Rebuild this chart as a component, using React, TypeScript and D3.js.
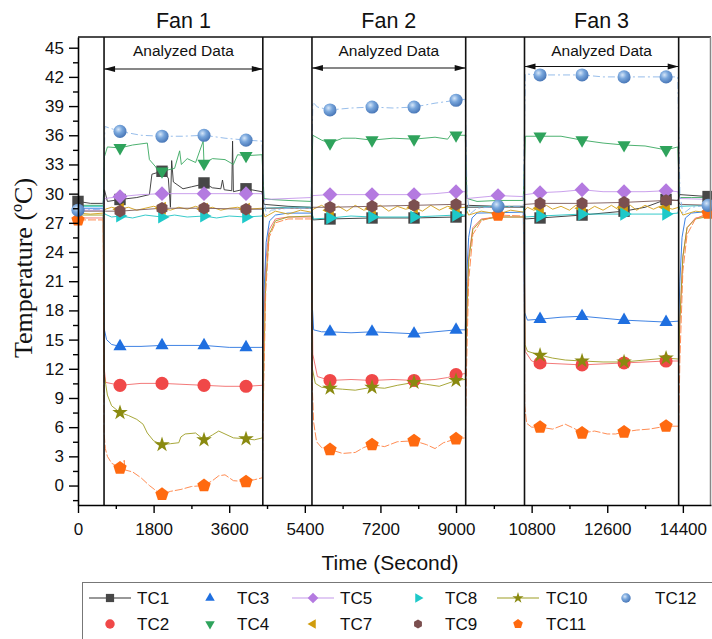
import { useEffect, useRef } from "react";
import * as d3 from "d3";

const width = 712;
const height = 639;
const plotLeft = 78;
const plotRight = 711;
const plotTop = 37;
const plotBottom = 505;

// fan on / off boundaries (seconds)
const fanNames = ["Fan 1", "Fan 2", "Fan 3"];
const fanStarts = [620, 5570, 10630];
const fanEnds = [4400, 9230, 14300];
const arrowY = [69, 68, 66.5];

const xTicks = [0, 1800, 3600, 5400, 7200, 9000, 10800, 12600, 14400];
const xMinor = [900, 2700, 4500, 6300, 8100, 9900, 11700, 13500];
const yTicks = [0, 3, 6, 9, 12, 15, 18, 21, 24, 27, 30, 33, 36, 39, 42, 45];
const yMinor = [-1.5, 1.5, 4.5, 7.5, 10.5, 13.5, 16.5, 19.5, 22.5, 25.5, 28.5, 31.5, 34.5, 37.5, 40.5, 43.5];

const markTimes = [1000, 2000, 3000, 4000, 6000, 7000, 8000, 9000, 11000, 12000, 13000, 14000];

type Pt = [number, number];

const tc1: Pt[] = [[0,29.2],[300,29.0],[600,29.0],[630,30.4],[700,29.2],[1000,29.4],[1400,29.6],[1700,29.9],[1760,32.0],[2000,32.3],[2150,31.6],[2200,28.6],[2230,33.4],[2270,31.2],[2500,30.5],[2700,30.7],[2900,30.9],[3000,31.1],[3200,30.6],[3400,30.5],[3440,31.4],[3480,30.4],[3660,30.3],[3680,35.4],[3700,30.2],[4000,30.5],[4380,30.2],[4430,28.9],[5000,28.7],[5550,28.6],[5600,27.3],[6000,27.4],[7000,27.5],[8000,27.5],[9000,27.6],[9220,27.7],[9270,28.8],[10000,28.7],[10600,28.7],[10650,27.4],[11000,27.5],[12000,27.8],[13000,28.2],[13500,28.6],[14000,29.4],[14280,29.3],[14330,29.9],[15000,29.7],[15070,29.7]];
const tc2: Pt[] = [[0,27.5],[600,27.5],[625,12.0],[660,10.6],[1000,10.3],[1500,10.5],[2000,10.5],[2500,10.4],[3000,10.3],[3500,10.2],[4000,10.2],[4390,10.3],[4420,16],[4470,23],[4550,26.3],[4700,27.4],[5000,27.6],[5560,27.6],[5590,13.5],[5700,11.2],[6000,10.8],[6500,10.9],[7000,10.8],[7500,10.9],[8000,10.8],[8500,10.9],[8800,11.1],[9000,11.4],[9220,11.5],[9250,17],[9300,23.5],[9400,26.5],[9600,27.4],[10000,27.6],[10620,27.6],[10645,13.8],[10800,12.8],[11000,12.6],[11500,12.5],[12000,12.4],[12500,12.5],[13000,12.6],[13500,12.7],[14000,12.8],[14300,12.8],[14330,17],[14400,23.5],[14500,26.5],[14700,27.5],[15070,27.8]];
const tc3: Pt[] = [[0,28.5],[600,28.5],[620,16.2],[680,15.0],[800,14.5],[1000,14.3],[1500,14.3],[2000,14.4],[2500,14.4],[3000,14.4],[3600,14.2],[4000,14.2],[4390,14.2],[4430,20],[4480,25],[4560,27.2],[4700,27.8],[5000,28.0],[5560,28.0],[5575,18.7],[5610,16.0],[5800,15.8],[6000,15.8],[6500,15.7],[7000,15.8],[7500,15.7],[8000,15.6],[8500,15.8],[9000,16.0],[9220,16.0],[9250,21],[9300,25.5],[9380,27.5],[9500,28.0],[10600,28.1],[10630,17.8],[10700,17.0],[11000,17.1],[11500,17.3],[12000,17.4],[12500,17.2],[13000,17.0],[13500,16.9],[14000,16.8],[14300,16.9],[14330,21],[14380,25.5],[14460,27.5],[14600,28.0],[15070,28.2]];
const tc4: Pt[] = [[0,28.8],[600,28.8],[630,33.8],[700,34.8],[1000,34.7],[1300,35.0],[1650,35.2],[1700,33.5],[1900,32.5],[2000,32.3],[2300,32.6],[2420,34.4],[2460,33.0],[2600,33.6],[2800,33.2],[2980,35.4],[3000,33.1],[3200,33.6],[3500,33.5],[3700,33.0],[3800,34.0],[4000,33.9],[4380,34.0],[4430,29.5],[4600,29.4],[5000,29.3],[5550,29.2],[5590,36.0],[5800,35.5],[6000,35.2],[6300,35.7],[6600,35.7],[7000,35.5],[7500,35.7],[8000,35.6],[8500,35.8],[8800,35.6],[8900,36.2],[9000,36.0],[9220,36.0],[9260,29.5],[9500,29.2],[10000,29.3],[10600,29.3],[10650,35.9],[11000,35.9],[11500,35.9],[12000,35.5],[12500,35.2],[13000,35.0],[13500,34.9],[14000,34.5],[14280,34.8],[14320,29.6],[14600,29.6],[15070,29.6]];
const tc5: Pt[] = [[0,28.3],[600,28.3],[640,29.5],[1000,29.7],[1500,29.9],[2000,30.0],[2500,30.0],[3000,30.0],[3500,30.0],[4000,30.0],[4380,30.0],[4420,29.4],[5000,29.5],[5550,29.6],[5590,29.8],[6000,29.9],[7000,29.9],[8000,29.9],[8500,30.0],[9000,30.2],[9220,30.2],[9260,29.5],[10000,29.8],[10600,29.7],[10650,29.9],[11000,30.1],[11500,30.2],[12000,30.4],[12500,30.2],[13000,30.2],[13500,30.2],[14000,30.3],[14280,30.2],[14320,29.5],[15070,29.4]];
const tc7: Pt[] = [[0,28.0],[300,27.9],[600,28.0],[650,28.4],[800,28.6],[1000,28.4],[1200,28.6],[1400,28.3],[1600,28.5],[1800,28.7],[2000,28.5],[2200,28.3],[2400,28.6],[2600,28.4],[2800,28.7],[3000,28.4],[3200,28.6],[3400,28.3],[3600,28.5],[3800,28.6],[4000,28.4],[4380,28.5],[4450,27.6],[4700,28.2],[5000,27.9],[5300,28.3],[5550,28.1],[5600,28.4],[5800,28.8],[6000,28.3],[6200,28.7],[6400,28.2],[6600,28.8],[6800,28.3],[7000,28.5],[7200,28.8],[7400,28.2],[7600,28.7],[7800,28.4],[8000,28.6],[8200,28.2],[8400,28.8],[8600,28.3],[8800,28.7],[9000,28.5],[9220,28.6],[9300,27.8],[9600,28.2],[10000,27.9],[10300,28.3],[10600,28.1],[10700,28.6],[10850,28.3],[11000,28.5],[11150,28.8],[11300,28.4],[11500,28.7],[11700,28.3],[11850,28.8],[12000,28.5],[12150,28.3],[12300,28.7],[12500,28.3],[12700,28.8],[12850,28.4],[13000,28.6],[13150,28.8],[13300,28.3],[13500,28.8],[13700,28.4],[13850,28.7],[14000,28.6],[14150,28.4],[14300,28.6],[14400,27.8],[14700,28.2],[15070,28.0]];
const tc8: Pt[] = [[0,28.7],[600,28.7],[640,27.9],[800,27.6],[1000,27.7],[1300,27.5],[1600,27.8],[2000,27.6],[2300,27.8],[2600,27.6],[3000,27.7],[3300,27.5],[3600,27.7],[4000,27.6],[4380,27.7],[4430,28.5],[5000,28.6],[5550,28.6],[5600,27.4],[6000,27.5],[6500,27.7],[7000,27.6],[7500,27.6],[8000,27.6],[8500,27.7],[9000,27.8],[9220,27.8],[9270,28.6],[10000,28.7],[10600,28.6],[10650,27.6],[11000,27.7],[11500,27.8],[12000,27.9],[12500,27.9],[13000,27.9],[13500,27.9],[14000,27.9],[14280,28.0],[14330,28.7],[15070,28.8]];
const tc9: Pt[] = [[0,28.2],[600,28.2],[650,28.2],[1000,28.2],[2000,28.5],[3000,28.5],[4000,28.4],[4380,28.4],[4430,28.5],[5550,28.5],[5600,28.6],[6000,28.6],[7000,28.7],[8000,28.8],[9000,28.9],[9220,28.9],[9270,28.6],[10600,28.6],[10650,28.9],[11000,29.0],[12000,29.0],[13000,29.1],[14000,29.3],[14280,29.3],[14330,28.9],[15070,28.8]];
const tc10: Pt[] = [[0,27.8],[600,27.8],[620,11.5],[660,10.4],[700,9.3],[800,8.2],[1000,7.5],[1200,7.2],[1400,6.8],[1550,6.3],[1650,5.4],[1800,4.6],[2000,4.2],[2200,4.3],[2400,4.4],[2450,5.0],[2550,5.3],[2800,5.4],[3000,4.7],[3200,5.2],[3350,5.6],[3500,5.3],[3700,4.9],[4000,4.8],[4200,4.7],[4390,4.9],[4420,12],[4470,21],[4550,25.8],[4700,27.2],[5000,27.6],[5560,27.7],[5580,12],[5650,10.5],[5800,10.1],[6000,10.0],[6300,9.9],[6600,9.8],[7000,10.1],[7300,10.0],[7600,10.3],[8000,10.6],[8300,10.4],[8600,10.2],[9000,10.8],[9220,10.9],[9250,16],[9300,23],[9400,26.3],[9600,27.3],[10000,27.6],[10620,27.6],[10640,14.5],[10700,13.8],[11000,13.4],[11300,13.1],[11600,12.9],[12000,12.8],[12500,12.7],[13000,12.7],[13500,12.9],[14000,13.1],[14300,13.0],[14330,17],[14400,23.5],[14500,26.5],[14700,27.4],[15070,27.7]];
const tc11: Pt[] = [[0,27.3],[600,27.3],[620,5.5],[650,3.8],[700,3.0],[800,2.3],[1000,1.8],[1080,1.7],[1100,2.6],[1120,1.6],[1300,1.4],[1500,0.8],[1700,0.0],[1850,-0.5],[2000,-0.9],[2200,-0.6],[2450,-0.4],[2700,-0.1],[3000,0.0],[3200,0.5],[3350,1.0],[3500,1.1],[3700,0.5],[4000,0.4],[4200,0.6],[4390,0.8],[4420,10],[4470,20],[4550,25.5],[4700,27.0],[5000,27.4],[5560,27.4],[5575,10.5],[5610,6.5],[5680,4.5],[5800,3.9],[6000,3.7],[6300,3.3],[6600,3.4],[6800,3.9],[7000,4.2],[7300,4.0],[7600,4.5],[8000,4.6],[8300,4.2],[8500,3.8],[8700,4.4],[9000,4.8],[9220,4.9],[9250,12],[9300,21],[9400,25.8],[9600,27.2],[10000,27.8],[10620,27.7],[10635,8.2],[10680,6.4],[10800,6.0],[11000,6.0],[11300,5.8],[11600,6.3],[11800,5.9],[12000,5.4],[12300,5.6],[12600,5.3],[12800,5.3],[13000,5.5],[13300,5.7],[13600,5.8],[14000,6.1],[14300,6.1],[14330,13],[14400,22],[14500,25.8],[14700,27.4],[15000,28.0],[15070,28.0]];
const tc12: Pt[] = [[0,28.3],[600,28.4],[640,36.9],[1000,36.4],[1500,36.0],[2000,35.9],[2500,35.9],[3000,36.0],[3500,35.7],[4000,35.5],[4380,35.4],[4420,30],[4480,27.8],[4600,28.3],[5000,28.5],[5550,28.5],[5590,39.4],[5700,38.9],[6000,38.6],[6500,38.8],[7000,38.9],[7500,38.8],[8000,38.9],[8500,39.3],[9000,39.6],[9220,39.7],[9260,30],[9330,27.9],[9500,28.5],[10000,28.7],[10600,28.7],[10650,42.3],[11000,42.2],[11500,42.2],[12000,42.2],[12500,42.0],[13000,42.0],[13500,42.0],[14000,42.0],[14280,42.0],[14330,30],[14400,27.9],[14600,28.6],[15000,28.8],[15070,28.8]];

type Series = {
  name: string;
  data: Pt[];
  color: string;
  lineColor: string;
  shape: string;
  extra: number[];
  dash?: string;
};

const series: Series[] = [
  { name: "TC1", data: tc1, color: "#474747", lineColor: "#333333", shape: "square", extra: [0, 15000] },
  { name: "TC2", data: tc2, color: "#f04848", lineColor: "#f26a6a", shape: "circle", extra: [] },
  { name: "TC3", data: tc3, color: "#1f6fe0", lineColor: "#2a74e0", shape: "up", extra: [] },
  { name: "TC4", data: tc4, color: "#2fa35c", lineColor: "#3aa860", shape: "down", extra: [] },
  { name: "TC5", data: tc5, color: "#b47ae0", lineColor: "#c497ea", shape: "diamond", extra: [10000] },
  { name: "TC7", data: tc7, color: "#d09c0c", lineColor: "#d4a017", shape: "left", extra: [] },
  { name: "TC8", data: tc8, color: "#1ec9c9", lineColor: "#22c4c4", shape: "right", extra: [] },
  { name: "TC9", data: tc9, color: "#7b4f4f", lineColor: "#7b5a5a", shape: "hexagon", extra: [] },
  { name: "TC10", data: tc10, color: "#8a8a10", lineColor: "#9d9d25", shape: "star", extra: [] },
  { name: "TC11", data: tc11, color: "#ff6a10", lineColor: "#ff8040", shape: "pentagon", extra: [0, 10000, 15000], dash: "8 2" },
  { name: "TC12", data: tc12, color: "#6f9fd6", lineColor: "#8cb6e8", shape: "sphere", extra: [0, 10000, 15000], dash: "7 3 2 3" },
];

const legendRow1 = ["TC1", "TC3", "TC5", "TC8", "TC10", "TC12"];
const legendRow2 = ["TC2", "TC4", "TC7", "TC9", "TC11"];
const legendWithLine = ["TC1", "TC5", "TC10"];
const legendMarkX = [110, 210, 313, 418, 518, 626];
const legendTextX = [137, 237, 340, 445, 546, 655];

const font = "'Liberation Sans', Arial, sans-serif";

const polygon = (n: number, r: number) => {
  const pts = d3.range(n).map((i) => {
    const a = -Math.PI / 2 + (i * 2 * Math.PI) / n;
    return [r * Math.cos(a), r * Math.sin(a)];
  });
  return "M" + pts.map((p) => p.join(",")).join("L") + "Z";
};

const markerPath = (shape: string, k: number) => {
  switch (shape) {
    case "square":
      return d3.symbol(d3.symbolSquare, 130 * k * k)()!;
    case "circle":
    case "sphere":
      return d3.symbol(d3.symbolCircle, 135 * k * k)()!;
    case "up":
    case "down":
    case "left":
    case "right":
      return d3.symbol(d3.symbolTriangle, 75 * k * k)()!;
    case "diamond":
      return d3.symbol(d3.symbolSquare, 110 * k * k)()!;
    case "hexagon":
      return polygon(6, 6.3 * k);
    case "pentagon":
      return polygon(5, 7 * k);
    case "star":
      return d3.symbol(d3.symbolStar, 75 * k * k)()!;
  }
  return "";
};

const rotation: Record<string, number> = { down: 180, left: -90, right: 90, diamond: 45 };

const App = () => {
  const xScale = d3.scaleLinear().domain([0, 15070]).range([plotLeft, plotRight]);
  const yScale = d3.scaleLinear().domain([-2, 46.1]).range([plotBottom, plotTop]);

  const xAxisRef = useRef<SVGGElement>(null);
  const xMinorRef = useRef<SVGGElement>(null);
  const yAxisRef = useRef<SVGGElement>(null);
  const yMinorRef = useRef<SVGGElement>(null);

  useEffect(() => {
    d3.select(xAxisRef.current!)
      .call(d3.axisBottom(xScale).tickValues(xTicks).tickSize(8).tickSizeOuter(0).tickPadding(10).tickFormat(d3.format("d")))
      .call((g) => g.select(".domain").attr("stroke-width", 1.6))
      .call((g) => g.selectAll(".tick line").attr("stroke-width", 1.4))
      .call((g) => g.selectAll("text").attr("font-size", 17).attr("font-family", font).attr("fill", "#111"));
    d3.select(xMinorRef.current!)
      .call(d3.axisBottom(xScale).tickValues(xMinor).tickSize(4).tickFormat(() => ""))
      .call((g) => g.select(".domain").remove())
      .call((g) => g.selectAll(".tick line").attr("stroke-width", 1.4));
    d3.select(yAxisRef.current!)
      .call(d3.axisLeft(yScale).tickValues(yTicks).tickSize(9).tickSizeOuter(0).tickPadding(5))
      .call((g) => g.select(".domain").attr("stroke-width", 1.6))
      .call((g) => g.selectAll(".tick line").attr("stroke-width", 1.4))
      .call((g) => g.selectAll("text").attr("font-size", 17).attr("font-family", font).attr("fill", "#111"));
    d3.select(yMinorRef.current!)
      .call(d3.axisLeft(yScale).tickValues(yMinor).tickSize(5).tickFormat(() => ""))
      .call((g) => g.select(".domain").remove())
      .call((g) => g.selectAll(".tick line").attr("stroke-width", 1.4));
  }, []);

  const line = d3
    .line<Pt>()
    .x((d) => xScale(d[0]))
    .y((d) => yScale(d[1]));

  const renderMarker = (s: Series, x: number, y: number, k: number, key: string) => (
    <path
      key={key}
      d={markerPath(s.shape, k)}
      transform={`translate(${x},${y}) rotate(${rotation[s.shape] || 0})`}
      fill={s.shape === "sphere" ? "url(#sphere)" : s.color}
    />
  );

  const findSeries = (name: string) => series.find((s) => s.name === name)!;

  return (
    <svg
      width={width}
      height={height}
      viewBox={`0 0 ${width} ${height}`}
      style={{ position: "absolute", left: 0, top: 0, background: "#fff" }}
    >
      <defs>
        <clipPath id="plot">
          <rect x={plotLeft} y={plotTop} width={plotRight - plotLeft} height={plotBottom - plotTop} />
        </clipPath>
        <radialGradient id="sphere" cx="38%" cy="35%" r="65%">
          <stop offset="0%" stopColor="#d6e6f8" />
          <stop offset="45%" stopColor="#78a6dc" />
          <stop offset="100%" stopColor="#4a78b8" />
        </radialGradient>
      </defs>

      {/* fan titles and analyzed ranges */}
      {fanNames.map((name, i) => {
        const x1 = xScale(fanStarts[i]);
        const x2 = xScale(fanEnds[i]);
        const cx = (x1 + x2) / 2;
        const ay = arrowY[i];
        return (
          <g key={name}>
            <text x={cx} y={28} textAnchor="middle" fontSize={21.5} fontFamily={font} fill="#111">
              {name}
            </text>
            <text x={cx} y={56} textAnchor="middle" fontSize={15.5} fontFamily={font} fill="#111">
              Analyzed Data
            </text>
            <line x1={x1} x2={x2} y1={ay} y2={ay} stroke="#111" strokeWidth={1.2} />
            <path d={`M${x1},${ay}L${x1 + 11},${ay - 3}L${x1 + 11},${ay + 3}Z`} fill="#111" />
            <path d={`M${x2},${ay}L${x2 - 11},${ay - 3}L${x2 - 11},${ay + 3}Z`} fill="#111" />
          </g>
        );
      })}

      <g clipPath="url(#plot)">
        {series.map((s) => (
          <path
            key={s.name}
            d={line(s.data)!}
            fill="none"
            stroke={s.lineColor}
            strokeWidth={1}
            strokeOpacity={0.9}
            strokeDasharray={s.dash}
          />
        ))}
      </g>

      {/* fan boundaries */}
      {[...fanStarts, ...fanEnds].map((t) => (
        <line key={t} x1={xScale(t)} x2={xScale(t)} y1={plotTop} y2={plotBottom} stroke="#111" strokeWidth={1.6} />
      ))}

      {series.map((s) =>
        s.data
          .filter((d) => markTimes.includes(d[0]) || s.extra.includes(d[0]))
          .map((d) => renderMarker(s, xScale(d[0]), yScale(d[1]), 1, `${s.name}-${d[0]}`))
      )}

      {/* frame */}
      <line x1={plotLeft} x2={plotRight} y1={plotTop} y2={plotTop} stroke="#111" strokeWidth={1.6} />
      <line x1={plotRight - 0.5} x2={plotRight - 0.5} y1={plotTop} y2={plotBottom} stroke="#888" strokeWidth={1.5} />

      <g ref={xMinorRef} transform={`translate(0,${plotBottom})`} />
      <g ref={xAxisRef} transform={`translate(0,${plotBottom})`} />
      <g ref={yMinorRef} transform={`translate(${plotLeft},0)`} />
      <g ref={yAxisRef} transform={`translate(${plotLeft},0)`} />

      <text
        transform={`translate(32,268) rotate(-90)`}
        textAnchor="middle"
        fontSize={26}
        fontFamily="'Liberation Serif', 'Times New Roman', serif"
        fill="#111"
      >
        Temperature (ºC)
      </text>
      <text x={390} y={570} textAnchor="middle" fontSize={21} fontFamily={font} fill="#111">
        Time (Second)
      </text>

      {/* legend */}
      <rect x={82.5} y={582.5} width={640} height={70} fill="none" stroke="#777" strokeWidth={1} />
      {[legendRow1, legendRow2].map((row, r) =>
        row.map((name, i) => {
          const s = findSeries(name);
          const y = r === 0 ? 598 : 624;
          const mx = legendMarkX[i];
          return (
            <g key={name}>
              {legendWithLine.includes(name) && (
                <line x1={mx - 21} x2={mx + 21} y1={y} y2={y} stroke={s.lineColor} strokeWidth={1.2} />
              )}
              {renderMarker(s, mx, y, 0.72, name + "-legend")}
              <text x={legendTextX[i]} y={y + 6} fontSize={17} fontFamily={font} fill="#111">
                {name}
              </text>
            </g>
          );
        })
      )}
    </svg>
  );
};

export default App;
